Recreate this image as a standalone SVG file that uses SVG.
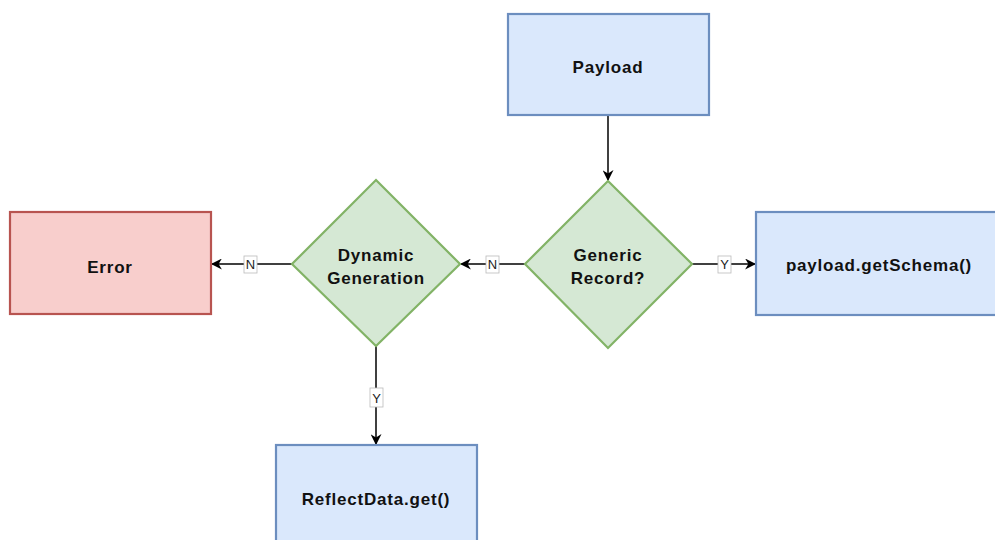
<svg xmlns="http://www.w3.org/2000/svg" width="995" height="540" viewBox="0 0 995 540">
<defs>
<style>
.blue{fill:#dae8fc;stroke:#6c8ebf;stroke-width:2.2}
.green{fill:#d5e8d4;stroke:#82b366;stroke-width:2.2}
.red{fill:#f8cecc;stroke:#b85450;stroke-width:2.2}
.t{font-family:"Liberation Sans",Arial,sans-serif;font-size:17px;fill:#111;text-anchor:middle;font-weight:bold;letter-spacing:0.8px}
.edge{stroke:#000;stroke-width:1.5;fill:none;marker-end:url(#arr)}
.lb{fill:#fff;stroke:#bbb;stroke-width:0.8}
.lt{font-family:"Liberation Sans",Arial,sans-serif;font-size:13px;fill:#222;text-anchor:middle}
</style>
<marker id="arr" viewBox="0 0 10 10" refX="9" refY="5" markerWidth="11" markerHeight="11" orient="auto" markerUnits="userSpaceOnUse">
<path d="M0,0 L10,5 L0,10 L3,5 Z" fill="#000"/>
</marker>
</defs>
<rect width="995" height="540" fill="#fff"/>
<g id="connectors">
<path class="edge" d="M608,115 L608,180"/>
<path class="edge" d="M692,264 L755,264"/>
<path class="edge" d="M525,264 L461,264"/>
<path class="edge" d="M292,264 L212,264"/>
<path class="edge" d="M376,346 L376,444"/>
<rect class="lb" x="718" y="256" width="13" height="17"/>
<text class="lt" x="724.5" y="269">Y</text>
<rect class="lb" x="486" y="256" width="13" height="17"/>
<text class="lt" x="492.5" y="269">N</text>
<rect class="lb" x="244" y="256" width="13" height="17"/>
<text class="lt" x="250.5" y="269">N</text>
<rect class="lb" x="370" y="388" width="13" height="19"/>
<text class="lt" x="376.5" y="403">Y</text>
</g>
<g id="payload">
<rect class="blue" x="508" y="14" width="201" height="101"/>
<text class="t" x="608" y="73">Payload</text>
</g>
<g id="generic">
<polygon class="green" points="608,181 692,264 608,348 525,264"/>
<text class="t" x="608" y="261">Generic</text>
<text class="t" x="608" y="284">Record?</text>
</g>
<g id="schema">
<rect class="blue" x="756" y="212" width="242" height="103"/>
<text class="t" x="879" y="271">payload.getSchema()</text>
</g>
<g id="dynamic">
<polygon class="green" points="376,180 460,264 376,346 292,264"/>
<text class="t" x="376" y="261">Dynamic</text>
<text class="t" x="376" y="284">Generation</text>
</g>
<g id="error">
<rect class="red" x="10" y="212" width="201" height="102"/>
<text class="t" x="110" y="273">Error</text>
</g>
<g id="reflect">
<rect class="blue" x="276" y="445" width="201" height="100"/>
<text class="t" x="376" y="505">ReflectData.get()</text>
</g>
</svg>
